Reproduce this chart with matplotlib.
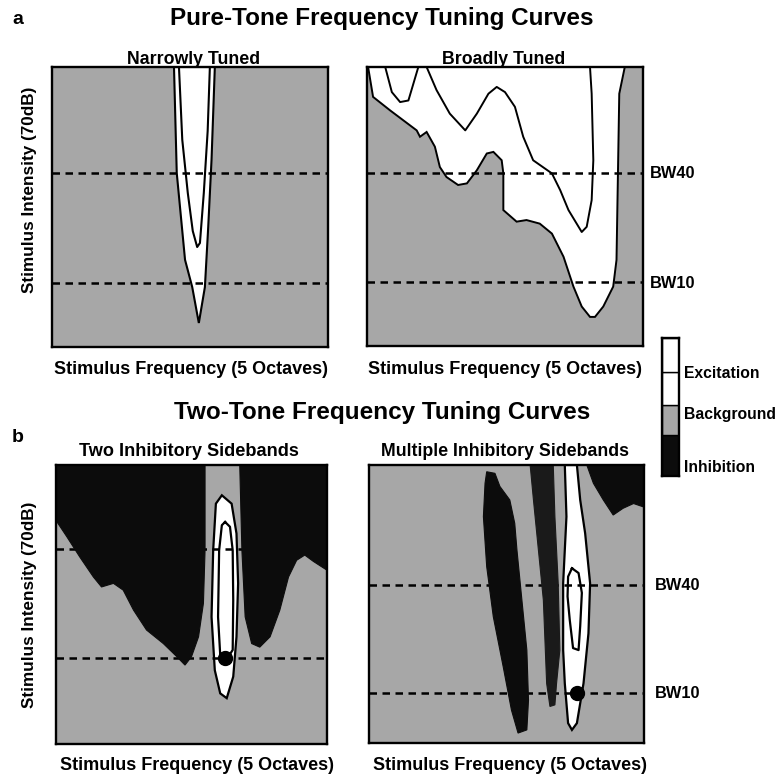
import numpy as np
import matplotlib
matplotlib.use("Agg")
import matplotlib.pyplot as plt

plt.rcParams['font.family'] = ['Liberation Sans', 'DejaVu Sans']
plt.rcParams['font.weight'] = 'bold'

# all shapes: x = stimulus frequency (octaves, 0-5), y = intensity (dB, 0-70)

# --- a: narrowly tuned ---
narrow_outer_oct = [2.21, 2.26, 2.41, 2.54, 2.66, 2.77, 2.83, 2.89, 2.95]
narrow_outer_db = [70, 43.5, 21.8, 15, 6, 15, 30, 46.8, 70]
narrow_inner_oct = [2.30, 2.36, 2.46, 2.55, 2.63, 2.68, 2.75, 2.82, 2.86]
narrow_inner_db = [70, 51.8, 38.5, 29, 25, 26, 38.5, 54, 70]

# --- a: broadly tuned ---
broad_outer_oct = [0.02, 0.11, 0.42, 0.66, 0.90, 0.96, 1.08, 1.23, 1.32, 1.44, 1.65,
                   1.81, 1.99, 2.17, 2.29, 2.44, 2.47, 2.47, 2.71, 2.89, 3.13, 3.35,
                   3.56, 3.74, 3.89, 4.04, 4.13, 4.28, 4.46, 4.52, 4.55, 4.57, 4.67]
broad_outer_db = [70, 62.5, 59.1, 56.6, 54.1, 52.5, 53.7, 50, 44.9, 42.4, 40.4,
                  40.8, 44.1, 48.3, 48.7, 46.6, 43.3, 34.1, 31.2, 31.6, 30.7, 28.2,
                  22.4, 14.9, 9.9, 7.3, 7.3, 9.9, 14.9, 21.6, 46.6, 63.3, 70]
broad_inner1_oct = [0.33, 0.45, 0.60, 0.75, 0.84, 0.93]
broad_inner1_db = [70, 63.7, 61.2, 61.6, 65.8, 70]
broad_inner2_oct = [1.08, 1.26, 1.50, 1.78, 1.99, 2.20, 2.35, 2.50, 2.68, 2.83, 3.01,
                    3.35, 3.50, 3.65, 3.89, 3.98, 4.07, 4.10, 4.07, 4.04]
broad_inner2_db = [70, 64.2, 58.3, 54.1, 58.3, 63.3, 65.0, 63.7, 60.0, 52.5, 46.6,
                   43.3, 39.1, 34.1, 28.6, 29.9, 36.6, 46.6, 63.3, 70]

# --- b: two inhibitory sidebands ---
two_inh_left_oct = [0, 0, 0.20, 0.44, 0.69, 0.84, 1.06, 1.24, 1.43, 1.67, 1.98, 2.23,
                    2.38, 2.50, 2.63, 2.72, 2.75, 2.75]
two_inh_left_db = [70, 56.1, 52, 46.9, 41.9, 39.4, 40.3, 38.6, 33.6, 28.6, 25.2, 21.9,
                   19.8, 21.9, 26.9, 35.3, 48.6, 70]
two_inh_right_oct = [3.39, 3.43, 3.49, 3.61, 3.76, 3.95, 4.13, 4.29, 4.44, 4.59, 4.75,
                     5.0, 5.0]
two_inh_right_db = [70, 48.6, 31.9, 25.2, 24.3, 26.9, 33.6, 41.9, 46.1, 47.4, 45.8,
                    43.6, 70]
two_exc_outer_oct = [3.06, 3.24, 3.33, 3.36, 3.33, 3.27, 3.15, 3.03, 2.93, 2.87, 2.90, 2.95]
two_exc_outer_db = [62.4, 60.3, 52.8, 40.3, 26.9, 16.9, 11.5, 12.7, 18.5, 31.9, 48.6, 60.3]
two_exc_inner_oct = [3.12, 3.21, 3.26, 3.27, 3.26, 3.18, 3.03, 2.99, 3.01, 3.06]
two_exc_inner_db = [55.7, 54.5, 48.6, 36.1, 23.6, 21.9, 22.3, 31.9, 48.6, 54.9]
two_cf = (3.12, 21.5)

# --- b: multiple inhibitory sidebands ---
multi_inh1_oct = [2.14, 2.29, 2.38, 2.56, 2.65, 2.69, 2.78, 2.87, 2.90, 2.87, 2.71,
                  2.59, 2.44, 2.26, 2.14, 2.08, 2.11]
multi_inh1_db = [68.3, 67.9, 64.6, 61.2, 55.3, 48.6, 36.0, 23.4, 10.8, 3.3, 2.5,
                 8.3, 19.2, 31.8, 44.4, 57.0, 65.4]
multi_inh2_oct = [2.93, 3.35, 3.38, 3.44, 3.47, 3.41, 3.38, 3.29, 3.23, 3.17, 3.08, 2.99]
multi_inh2_db = [70, 70, 57.0, 40.2, 23.4, 15.0, 9.6, 9.2, 15.0, 36.0, 48.6, 61.2]
multi_inh3_oct = [3.96, 4.08, 4.26, 4.44, 4.62, 4.81, 5.0, 5.0]
multi_inh3_db = [70, 65.4, 61.2, 57.4, 59.1, 60.3, 59.4, 70]
multi_exc_outer_oct = [3.56, 3.59, 3.53, 3.53, 3.56, 3.62, 3.69, 3.78, 3.90, 3.99,
                       4.02, 3.93, 3.84, 3.78]
multi_exc_outer_db = [70, 57.0, 40.2, 23.4, 15.0, 5.0, 3.3, 5.0, 15.0, 27.6,
                      40.2, 52.8, 61.2, 70]
multi_exc_inner_oct = [3.69, 3.81, 3.87, 3.84, 3.81, 3.71, 3.65, 3.61, 3.62]
multi_exc_inner_db = [44.0, 42.8, 37.8, 29.4, 23.4, 23.9, 31.0, 36.9, 41.9]
multi_cf = (3.78, 12.6)

bw_a = [43.5, 16.0]          # BW40, BW10
bw_two = [48.9, 21.5]
bw_multi = [39.8, 12.5]
bw_names = ["BW40", "BW10"]

legend_names = ["Inhibition", "Background", "Excitation"]
legend_sizes = [41, 30, 33, 34]

GRAY = '#a7a7a7'
BLACK = '#0c0c0c'
W, H = 778, 780

fig = plt.figure(figsize=(W / 100, H / 100), dpi=100)


def box(l, t, r, b):
    return [l / W, 1 - b / H, (r - l) / W, (b - t) / H]


def ftext(x, y, s, **kw):
    fig.text(x / W, 1 - y / H, s, **kw)


def panel(rect):
    ax = fig.add_axes(rect)
    ax.set_xlim(0, 5)
    ax.set_ylim(0, 70)
    ax.set_facecolor(GRAY)
    ax.set_xticks([])
    ax.set_yticks([])
    for sp in ax.spines.values():
        sp.set_linewidth(1.7)
        sp.set_zorder(10)
    return ax


def bw_lines(ax, levels):
    for lv in levels:
        ax.axhline(lv, color='black', lw=1.8, ls=(0, (3, 2.2)), zorder=6)


ax1 = panel(box(52, 67, 328, 347))
ax1.fill(narrow_outer_oct, narrow_outer_db, fc='white', ec='black', lw=1.5, zorder=2)
ax1.plot(narrow_inner_oct, narrow_inner_db, color='black', lw=1.5, zorder=3)
bw_lines(ax1, bw_a)

ax2 = panel(box(367, 67, 643, 346))
ax2.fill(broad_outer_oct, broad_outer_db, fc='white', ec='black', lw=1.4, zorder=2)
ax2.plot(broad_inner1_oct, broad_inner1_db, color='black', lw=1.4, zorder=3)
ax2.plot(broad_inner2_oct, broad_inner2_db, color='black', lw=1.4, zorder=3)
bw_lines(ax2, bw_a)

ax3 = panel(box(56, 465, 327, 744))
bw_lines(ax3, bw_two)
ax3.fill(two_inh_left_oct, two_inh_left_db, fc=BLACK, ec=BLACK, lw=0.8, zorder=7)
ax3.fill(two_inh_right_oct, two_inh_right_db, fc=BLACK, ec=BLACK, lw=0.8, zorder=7)
ax3.fill(two_exc_outer_oct, two_exc_outer_db, fc='white', ec='black', lw=1.6, zorder=4)
ax3.plot(two_exc_inner_oct + two_exc_inner_oct[:1], two_exc_inner_db + two_exc_inner_db[:1],
         color='black', lw=1.6, zorder=5)
ax3.plot(*two_cf, 'o', color='black', ms=10, zorder=8)

ax4 = panel(box(369, 465, 644, 743))
bw_lines(ax4, bw_multi)
ax4.fill(multi_inh1_oct, multi_inh1_db, fc=BLACK, ec=BLACK, lw=0.8, zorder=7)
ax4.fill(multi_inh2_oct, multi_inh2_db, fc='#1a1a1a', ec='#1a1a1a', lw=0.8, zorder=7)
ax4.fill(multi_inh3_oct, multi_inh3_db, fc=BLACK, ec=BLACK, lw=0.8, zorder=7)
ax4.fill(multi_exc_outer_oct, multi_exc_outer_db, fc='white', ec='black', lw=1.6, zorder=4)
ax4.plot(multi_exc_inner_oct + multi_exc_inner_oct[:1], multi_exc_inner_db + multi_exc_inner_db[:1],
         color='black', lw=1.6, zorder=5)
ax4.plot(*multi_cf, 'o', color='black', ms=10, zorder=8)

# level key
axk = fig.add_axes(box(662, 338, 679, 476))
seg_colors = [BLACK, GRAY, 'white', 'white']
bottom = 0
for size, c in zip(legend_sizes, seg_colors):
    axk.bar(0, size, bottom=bottom, width=1, color=c, edgecolor='black', lw=1.0)
    bottom += size
axk.set_xlim(-0.5, 0.5)
axk.set_ylim(0, bottom)
axk.set_xticks([])
axk.set_yticks([])
for sp in axk.spines.values():
    sp.set_linewidth(1.7)

# text
ftext(12, 20, "a", fontsize=14, ha='left', va='center')
ftext(12, 437, "b", fontsize=14, ha='left', va='center')
ftext(382, 18, "Pure-Tone Frequency Tuning Curves", fontsize=17.5, ha='center', va='center')
ftext(382, 413, "Two-Tone Frequency Tuning Curves", fontsize=17.5, ha='center', va='center')
ftext(194, 59, "Narrowly Tuned", fontsize=12.8, ha='center', va='center')
ftext(504, 59, "Broadly Tuned", fontsize=12.8, ha='center', va='center')
ftext(189, 451, "Two Inhibitory Sidebands", fontsize=13.1, ha='center', va='center')
ftext(505, 451, "Multiple Inhibitory Sidebands", fontsize=12.8, ha='center', va='center')
for xc in (191, 505):
    ftext(xc, 370, "Stimulus Frequency (5 Octaves)", fontsize=13, ha='center', va='center')
for xc in (197, 510):
    ftext(xc, 766, "Stimulus Frequency (5 Octaves)", fontsize=13, ha='center', va='center')
ftext(30, 190, "Stimulus Intensity (70dB)", fontsize=12.3, rotation=90, ha='center', va='center')
ftext(30, 605, "Stimulus Intensity (70dB)", fontsize=12.3, rotation=90, ha='center', va='center')

for name, yy in zip(bw_names, [173, 283]):
    ftext(650, yy, name, fontsize=11.8, ha='left', va='center')
for name, yy in zip(bw_names, [585, 693]):
    ftext(655, yy, name, fontsize=11.8, ha='left', va='center')

for name, yy in zip(legend_names, [467, 415, 373]):
    ftext(684, yy, name, fontsize=11.3, ha='left', va='center')

fig.savefig("out.png", dpi=100)
